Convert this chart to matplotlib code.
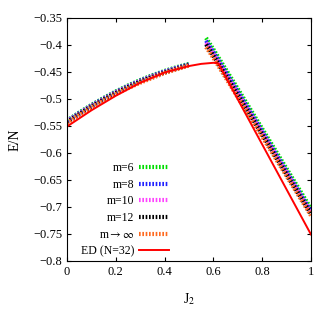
import matplotlib
matplotlib.use("Agg")
import matplotlib.pyplot as plt

plt.rcParams["font.family"] = ["Liberation Serif", "DejaVu Serif"]
plt.rcParams["mathtext.fontset"] = "stix"

# left branch (small J2)
j_left = [0.0, 0.05, 0.1, 0.15, 0.2, 0.25, 0.3, 0.35, 0.4, 0.45, 0.5]
m6_left = [-0.540, -0.525, -0.511, -0.498, -0.486, -0.475, -0.465, -0.456, -0.448, -0.441, -0.435]
m8_left = [-0.541, -0.526, -0.512, -0.499, -0.487, -0.476, -0.466, -0.457, -0.449, -0.442, -0.436]
m10_left = [-0.542, -0.527, -0.513, -0.500, -0.488, -0.477, -0.467, -0.458, -0.450, -0.443, -0.437]
m12_left = [-0.543, -0.528, -0.514, -0.501, -0.489, -0.478, -0.468, -0.459, -0.451, -0.444, -0.437]
minf_left = [-0.545, -0.530, -0.516, -0.503, -0.491, -0.480, -0.470, -0.461, -0.452, -0.445, -0.438]

# right branch (large J2)
j_right = [0.57, 0.6, 0.7, 0.8, 0.9, 1.0]
m6_right = [-0.387, -0.408, -0.481, -0.555, -0.629, -0.703]
m8_right = [-0.392, -0.413, -0.486, -0.560, -0.634, -0.708]
m10_right = [-0.396, -0.417, -0.490, -0.563, -0.637, -0.711]
m12_right = [-0.399, -0.420, -0.493, -0.566, -0.640, -0.713]
minf_right = [-0.404, -0.424, -0.497, -0.570, -0.643, -0.716]

# exact diagonalisation
j_ed = [0.0, 0.1, 0.2, 0.3, 0.4, 0.5, 0.55, 0.6, 0.62, 1.0]
e_ed = [-0.551, -0.521, -0.494, -0.470, -0.451, -0.439, -0.435, -0.433, -0.434, -0.751]

labels = ["m=6", "m=8", "m=10", "m=12", r"m$\rightarrow\infty$", "ED (N=32)"]
colors = ["#00dd00", "#2020ff", "#ff44ff", "#000000", "#ff6a20"]

fig = plt.figure(figsize=(3.27, 3.27), dpi=100)
ax = fig.add_axes([0.205, 0.202, 0.746, 0.743])

left = [m6_left, m8_left, m10_left, m12_left, minf_left]
right = [m6_right, m8_right, m10_right, m12_right, minf_right]
for yl, yr, c, lab in zip(left, right, colors, labels):
    ax.plot(j_left, yl, ls=(0, (0.4, 0.4)), lw=3, color=c, label=lab)
    ax.plot(j_right, yr, ls=(0, (0.4, 0.4)), lw=3, color=c)
ax.plot(j_ed, e_ed, color="#ff0000", lw=1.4, label=labels[5])

ax.set_xlim(0, 1)
ax.set_ylim(-0.8, -0.35)
ax.set_xticks([0, 0.2, 0.4, 0.6, 0.8, 1])
ax.set_xticklabels(["0", "0.2", "0.4", "0.6", "0.8", "1"])
yt = [-0.8, -0.75, -0.7, -0.65, -0.6, -0.55, -0.5, -0.45, -0.4, -0.35]
ax.set_yticks(yt)
ax.set_yticklabels([f"{v:g}".replace("-", "\u2212") for v in yt])
ax.tick_params(direction="in", top=True, right=True, labelsize=9, length=3)
ax.set_xlabel(r"J$_2$", fontsize=10, labelpad=10)
ax.set_ylabel("E/N", fontsize=10, labelpad=8)

ax.legend(loc="lower right", bbox_to_anchor=(0.46, -0.03), frameon=False,
          markerfirst=False, fontsize=8.5, handlelength=2.5, labelspacing=0.4,
          handletextpad=0.4)

fig.savefig("out.png")
